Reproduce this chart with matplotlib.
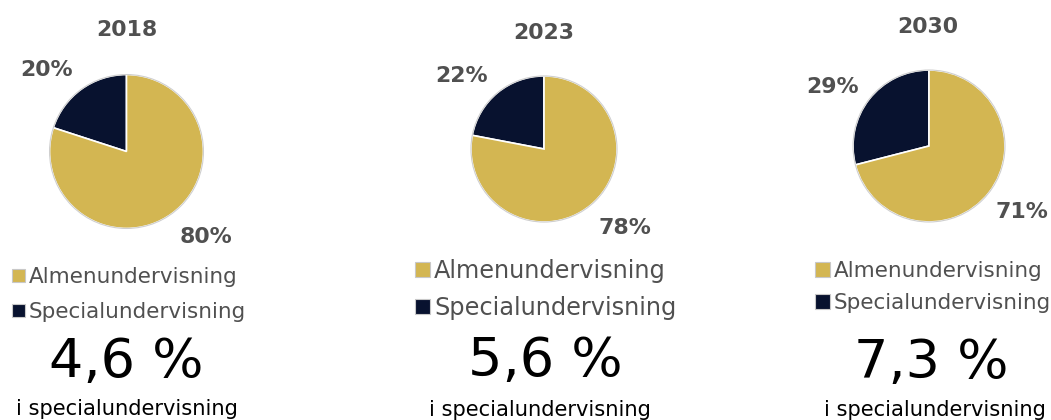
import matplotlib.pyplot as plt
from matplotlib.patches import Circle, Rectangle

years = ["2018", "2023", "2030"]
special_share = [20, 22, 29]
almen_share = [80, 78, 71]
special_pct = ["4,6 %", "5,6 %", "7,3 %"]
categories = ["Almenundervisning", "Specialundervisning"]
subtitle = "i specialundervisning"

GOLD = "#D3B652"
NAVY = "#08122F"
GRAY = "#505050"

W, H = 1051, 420
plt.rcParams['font.family'] = ['DejaVu Sans']
fig = plt.figure(figsize=(W / 100, H / 100), dpi=100)

def fx(x):
    return x / W

def fy(y):
    return 1 - y / H

def pt(px):
    return px * 0.72

# panel layout, in pixels
centers = [(126.5, 151.5), (544, 149), (929, 146)]
radii = [78.5, 74.5, 77.5]
title_pos = [(127, 36), (544, 39), (928, 33)]
small_lbl = [(47, 76), (462, 82), (833, 93)]
big_lbl = [(206, 243), (625, 234), (1022, 218)]
leg_x = [12, 415, 815]          # left of legend square
leg_rows = [(283, 318), (278, 315), (277, 309)]   # text baselines
leg_fs = [21.5, 24, 21.5]
leg_sq = [13, 15, 15]
big_pos = [(126, 377), (545, 376), (931, 378)]
sub_pos = [(127, 415), (540, 416), (935, 416)]

for i in range(3):
    cx, cy = centers[i]
    r = radii[i]
    ax = fig.add_axes([fx(cx - r), fy(cy + r), 2 * r / W, 2 * r / H])
    ax.pie([special_share[i], almen_share[i]], colors=[NAVY, GOLD],
           startangle=90, counterclock=True, radius=1,
           wedgeprops=dict(edgecolor="white", linewidth=1.2))
    ax.add_patch(Circle((0, 0), 1.0, fill=False, edgecolor="#cfcfcf", linewidth=0.8))
    ax.set_xlim(-1.02, 1.02)
    ax.set_ylim(-1.02, 1.02)
    ax.set_aspect("equal")
    ax.axis("off")

    fig.text(fx(title_pos[i][0]), fy(title_pos[i][1]), years[i], ha="center",
             va="baseline", fontsize=pt(22), color=GRAY, fontweight="bold")
    fig.text(fx(small_lbl[i][0]), fy(small_lbl[i][1]), f"{special_share[i]}%",
             ha="center", va="baseline", fontsize=pt(22), color=GRAY, fontweight="bold")
    fig.text(fx(big_lbl[i][0]), fy(big_lbl[i][1]), f"{almen_share[i]}%",
             ha="center", va="baseline", fontsize=pt(22), color=GRAY, fontweight="bold")

    # legend
    fs = leg_fs[i]
    sq = leg_sq[i]
    for lab, col, base in zip(categories, [GOLD, NAVY], leg_rows[i]):
        ymid = base - 0.36 * fs
        fig.patches.append(Rectangle((fx(leg_x[i]), fy(ymid + sq / 2)), sq / W, sq / H,
                                     transform=fig.transFigure, facecolor=col,
                                     edgecolor="#c8c8c8", linewidth=0.8))
        fig.text(fx(leg_x[i] + sq + 4), fy(base), lab, ha="left", va="baseline",
                 fontsize=pt(fs), color=GRAY)

    fig.text(fx(big_pos[i][0]), fy(big_pos[i][1]), special_pct[i], ha="center",
             va="baseline", fontsize=pt(54), color="black")
    fig.text(fx(sub_pos[i][0]), fy(sub_pos[i][1]), subtitle, ha="center",
             va="baseline", fontsize=pt(21), color="black")

fig.savefig("out.png", dpi=100, facecolor="white")
